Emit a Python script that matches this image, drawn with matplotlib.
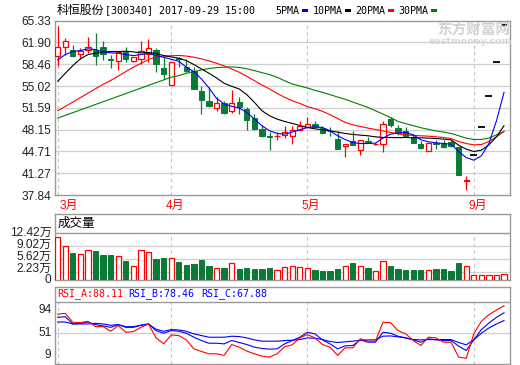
import numpy as np
import matplotlib
matplotlib.use("Agg")
import matplotlib.pyplot as plt
from matplotlib.patches import Rectangle

# ---------------- data ----------------
stock_name = "科恒股份"
stock_info = "[300340] 2017-09-29 15:00"
month_labels = ["3月", "4月", "5月", "9月"]
month_start = [0, 15, 33, 55]

opens = [59.83, 61.26, 60.78, 60.10, 60.78, 60.78, 61.15, 59.25, 59.04, 60.36,
         58.94, 59.31, 60.10, 60.78, 57.83, 55.25, 59.46, 58.09, 57.46, 54.19,
         52.71, 51.55, 52.29, 51.13, 52.45, 51.40, 49.97, 48.18, 47.07, 47.07,
         47.33, 47.17, 48.07, 48.60, 49.02, 48.39, 47.97, 46.75, 45.54, 46.28,
         44.91, 46.28, 45.86, 45.86, 49.76, 48.34, 47.97, 47.02, 45.96, 44.80,
         46.12, 46.12, 46.23, 45.44, 40.05, 44.17, 48.59, 53.45, 58.80, 64.68]
highs = [64.48, 62.63, 61.57, 61.05, 62.74, 63.37, 62.10, 59.99, 60.63, 61.15,
         59.68, 62.10, 62.37, 61.05, 59.68, 58.89, 59.57, 59.31, 57.99, 55.09,
         54.93, 53.24, 52.71, 54.40, 53.24, 51.77, 50.60, 48.92, 47.70, 47.70,
         48.76, 48.76, 49.44, 50.08, 49.55, 48.76, 48.60, 47.97, 45.86, 47.86,
         46.59, 47.02, 46.07, 49.44, 50.08, 48.92, 48.60, 47.44, 46.38, 46.12,
         46.49, 46.49, 46.49, 45.59, 40.85, 44.17, 48.59, 53.45, 58.80, 64.68]
lows = [58.25, 59.99, 59.57, 59.31, 60.20, 58.36, 59.15, 57.88, 57.57, 58.89,
        58.89, 58.52, 58.78, 57.30, 56.14, 55.25, 57.99, 57.20, 54.56, 50.60,
        51.77, 51.03, 50.60, 50.71, 50.60, 48.07, 48.07, 47.02, 44.91, 46.49,
        46.81, 45.96, 48.07, 48.49, 48.49, 47.44, 47.12, 45.07, 43.85, 45.75,
        44.17, 46.12, 45.75, 44.65, 48.60, 47.33, 47.18, 46.02, 45.07, 44.80,
        45.17, 45.22, 45.44, 40.95, 38.58, 44.17, 48.59, 53.45, 58.80, 64.68]
closes = [61.15, 62.10, 59.83, 60.63, 61.15, 59.83, 60.10, 59.15, 60.36, 59.31,
          59.57, 60.63, 61.05, 58.52, 56.93, 58.89, 59.25, 57.36, 54.56, 52.82,
          51.92, 52.29, 50.71, 52.29, 51.77, 49.66, 48.23, 47.12, 46.96, 47.17,
          47.81, 48.07, 48.76, 49.02, 48.60, 47.65, 47.86, 45.07, 45.86, 45.75,
          46.59, 46.17, 45.96, 49.02, 48.92, 47.55, 47.18, 46.02, 45.22, 46.12,
          45.86, 45.44, 45.59, 40.95, 40.15, 44.17, 48.59, 53.45, 58.80, 64.68]
volumes = [11.2, 8.8, 7.2, 6.7, 8.0, 7.6, 6.6, 6.6, 6.2, 5.0,
           3.6, 7.8, 7.3, 5.5, 5.8, 5.9, 4.7, 3.9, 4.2, 5.2,
           3.7, 3.1, 3.1, 4.4, 2.9, 3.1, 2.9, 2.9, 3.1, 2.5,
           3.3, 3.8, 3.3, 3.1, 2.5, 2.4, 2.4, 2.9, 3.8, 4.5,
           3.8, 3.1, 2.4, 5.0, 3.7, 2.9, 2.6, 2.6, 2.6, 2.5,
           2.9, 2.9, 2.4, 4.5, 3.8, 1.2, 1.2, 1.2, 1.2, 1.5]
ma5 = [59.15, 59.99, 60.47, 60.63, 60.89, 60.78, 60.41, 60.26, 60.20, 59.99,
       59.83, 59.99, 60.20, 59.83, 59.57, 59.25, 58.94, 57.99, 57.30, 56.14,
       54.72, 53.08, 52.19, 51.82, 51.55, 50.87, 49.81, 48.76, 47.97, 47.55,
       47.44, 47.76, 48.13, 48.49, 48.60, 48.49, 47.97, 47.18, 46.59, 46.12,
       45.96, 45.96, 46.02, 46.81, 47.44, 47.62, 47.70, 47.33, 46.54, 46.23,
       46.07, 45.96, 45.86, 44.70, 43.75, 43.33, 44.01, 45.96, 49.55, 54.03]
ma10 = [55.77, 57.04, 58.25, 59.31, 59.99, 60.20, 60.36, 60.47, 60.47, 60.52,
        60.41, 60.26, 60.31, 60.15, 59.83, 59.62, 59.41, 59.04, 58.41, 57.72,
        57.04, 56.30, 55.46, 54.98, 54.56, 53.66, 52.45, 51.13, 50.34, 49.81,
        49.44, 49.13, 48.81, 48.49, 48.28, 48.13, 47.97, 47.76, 47.55, 47.39,
        47.28, 47.18, 47.02, 46.91, 46.91, 46.88, 46.91, 46.86, 46.86, 46.81,
        46.75, 46.65, 46.54, 45.70, 45.07, 44.70, 44.91, 45.75, 47.02, 48.76]
ma20 = [51.13, 51.80, 52.50, 53.20, 53.90, 54.60, 55.30, 55.90, 56.60, 57.30,
        58.00, 58.60, 59.20, 59.60, 59.75, 59.80, 59.85, 59.75, 59.57, 59.31,
        58.99, 58.62, 58.20, 57.72, 57.20, 56.56, 55.88, 55.19, 54.56, 53.87,
        53.24, 52.71, 52.29, 51.77, 51.45, 51.03, 50.50, 49.92, 49.29, 48.92,
        48.65, 48.39, 48.18, 47.97, 47.70, 47.50, 47.33, 47.23, 47.18, 47.12,
        47.02, 46.91, 46.75, 46.28, 45.96, 45.75, 45.80, 46.28, 47.02, 47.86]
ma30 = [49.97, 50.40, 50.83, 51.26, 51.69, 52.12, 52.55, 52.98, 53.41, 53.84,
        54.27, 54.70, 55.13, 55.56, 55.99, 56.41, 56.67, 57.04, 57.30, 57.57,
        57.78, 57.94, 57.99, 58.05, 57.95, 57.75, 57.46, 57.14, 56.83, 56.41,
        55.85, 55.35, 55.03, 54.72, 54.35, 54.03, 53.66, 53.29, 52.93, 52.50,
        52.08, 51.66, 51.13, 50.60, 50.05, 49.44, 49.10, 48.78, 48.45, 48.20,
        47.95, 47.76, 47.55, 47.18, 46.81, 46.60, 46.60, 46.81, 47.33, 47.86]
rsi_a = [76.8, 77.7, 65.5, 65.0, 66.8, 59.5, 59.5, 53.2, 60.9, 51.8,
         52.7, 58.6, 63.2, 44.1, 35.9, 48.2, 47.3, 41.4, 29.1, 25.5,
         22.3, 22.3, 20.1, 35.0, 31.4, 26.0, 22.3, 19.1, 17.8, 22.3,
         31.9, 34.6, 44.1, 48.7, 44.1, 35.0, 31.4, 20.1, 30.5, 30.5,
         42.8, 39.6, 39.6, 65.5, 65.0, 54.1, 49.6, 40.5, 33.7, 45.0,
         44.1, 38.2, 38.2, 17.8, 16.0, 49.6, 66.8, 75.9, 82.2, 88.11]
rsi_b = [72.3, 73.2, 63.2, 64.1, 65.9, 62.3, 60.5, 58.6, 62.3, 58.6,
         58.6, 61.4, 63.2, 54.1, 50.5, 54.1, 53.2, 50.5, 45.0, 40.5,
         36.8, 36.8, 35.9, 40.5, 37.8, 35.0, 31.4, 29.6, 28.7, 29.1,
         35.9, 40.5, 45.0, 51.8, 49.6, 41.4, 35.9, 29.1, 33.2, 33.7,
         41.4, 38.2, 38.2, 51.8, 50.5, 46.4, 44.1, 41.4, 38.2, 42.8,
         41.4, 40.5, 40.5, 32.8, 26.9, 41.4, 55.5, 64.5, 72.3, 78.46]
rsi_c = [65.9, 65.9, 63.2, 63.2, 63.2, 64.1, 63.2, 61.4, 62.3, 59.5,
         59.5, 61.4, 63.2, 55.9, 53.2, 55.5, 55.0, 53.2, 49.6, 47.3,
         45.0, 45.0, 45.0, 46.4, 45.9, 44.1, 41.4, 39.6, 39.6, 39.6,
         40.5, 40.9, 41.8, 44.1, 43.7, 41.8, 39.1, 37.8, 38.7, 39.6,
         40.9, 41.4, 41.4, 46.4, 46.8, 45.5, 44.1, 41.8, 41.4, 41.8,
         41.8, 41.8, 41.8, 37.8, 34.6, 41.4, 50.5, 57.7, 63.2, 67.88]
price_ticks = [37.84, 41.27, 44.71, 48.15, 51.59, 55.02, 58.46, 61.90, 65.33]
vol_ticks = [0, 2.23, 5.62, 9.02, 12.42]
rsi_ticks = [9, 51, 94]
ma_names = ["5PMA", "10PMA", "20PMA", "30PMA"]

# ---------------- style ----------------
RED = "#ff0000"
GREEN = "#0a7a36"
BLUE = "#0000ff"
FRAME = "#9a9a9a"
GRID = "#cfcfcf"
VDASH = "#c4c4c4"
TXT = "#222222"
ma_colors = [BLUE, "#000000", RED, "#008000"]
LAT = ["Liberation Sans", "Noto Sans CJK SC"]
MONO = ["DejaVu Sans Mono", "Noto Sans CJK SC"]
CJK = ["Noto Sans CJK SC", "DejaVu Sans"]

W, H = 520, 365
fig = plt.figure(figsize=(W / 100, H / 100), dpi=100)
fig.patch.set_facecolor("white")


def ax_px(x0, y0, x1, y1):
    return fig.add_axes([x0 / W, (H - y1) / H, (x1 - x0) / W, (y1 - y0) / H])


def ftext(xpx, ypx, s, **kw):
    return fig.text(xpx / W, 1 - ypx / H, s, **kw)


n = len(closes)
x = np.arange(n)
o = np.array(opens); c = np.array(closes); hi = np.array(highs); lo = np.array(lows)
flat = hi == lo                      # one-price (limit) days drawn as dashes
up = (c >= o) & ~flat
dn = c < o
blo = np.minimum(o, c)
bhi = np.maximum(o, c)
bh = np.maximum(bhi - blo, 0.05)
XL = (-0.36, n - 0.21)
BW = 0.7


def style_frame(ax):
    for s in ax.spines.values():
        s.set_color(FRAME)
        s.set_linewidth(1.0)
    ax.set_xlim(*XL)
    ax.set_xticks([])
    ax.tick_params(axis="y", length=0, pad=2.5, labelsize=8.6, labelcolor=TXT)
    ax.set_facecolor("white")


# ---------------- main price panel ----------------
ax = ax_px(55, 20.7, 510, 195)
style_frame(ax)
ax.set_ylim(price_ticks[0], price_ticks[-1])
ax.set_yticks(price_ticks)
ax.set_yticklabels([f"{v:.2f}" for v in price_ticks], family=LAT)
for v in price_ticks[1:-1]:
    ax.axhline(v, color=GRID, lw=0.9, zorder=0)
for m in month_start:
    ax.axvline(m, color=VDASH, lw=0.8, ls=(0, (3, 3)), zorder=0)

ax.vlines(x[dn], lo[dn], hi[dn], color=GREEN, lw=0.9, zorder=2)
ax.bar(x[dn], bh[dn], bottom=blo[dn], width=BW, color=GREEN, edgecolor=GREEN,
       lw=0.7, zorder=3)
ax.vlines(x[up], bhi[up], hi[up], color=RED, lw=0.9, zorder=2)
ax.vlines(x[up], lo[up], blo[up], color=RED, lw=0.9, zorder=2)
ax.bar(x[up], bh[up], bottom=blo[up], width=BW, facecolor="white", edgecolor=RED,
       lw=0.9, zorder=3)
ax.hlines(c[flat], x[flat] - 0.45, x[flat] + 0.45, color="#000000", lw=1.3, zorder=3)
for ser, col in zip([ma30, ma20, ma10, ma5], ma_colors[::-1]):
    ax.plot(x, ser, color=col, lw=0.8, zorder=4)

# month labels
for lab, m in zip(month_labels, month_start):
    if m == 0:
        ax.text(m + 0.2, -0.06, lab, transform=ax.get_xaxis_transform(),
                ha="left", va="center", color=RED, fontsize=8.6, family=LAT)
    else:
        ax.text(m + 0.5, -0.06, lab, transform=ax.get_xaxis_transform(),
                ha="center", va="center", color=RED, fontsize=8.6, family=LAT)

# watermark
ftext(474, 29.5, "东方财富网", fontsize=10.5, color="#d2d2d2", ha="center",
      va="center", family=CJK, weight="bold", zorder=1)
ftext(470, 41.5, "eastmoney.com", fontsize=6.8, color="#d8d8d8", ha="center",
      va="center", family=["DejaVu Sans"], weight="bold", zorder=1)

# title + legend
ftext(57, 10.5, stock_name, fontsize=8.6, family=CJK, color="#000000",
      ha="left", va="center")
ftext(105, 10.5, stock_info, fontsize=7.2, family=MONO, color="#000000",
      ha="left", va="center")
leg_x = [275, 313, 355, 398]
sq_x = [302, 345, 388, 431]
for name, col, lx, sx in zip(ma_names, ma_colors, leg_x, sq_x):
    ftext(lx, 10.5, name, fontsize=7.2, family=MONO, color="#000000",
          ha="left", va="center")
    fig.add_artist(Rectangle((sx / W, 1 - 12 / H), 5.5 / W, 2.8 / H,
                             transform=fig.transFigure, color=col, lw=0))

# ---------------- volume panel ----------------
axv = ax_px(55, 214, 510, 280)
style_frame(axv)
vtop = vol_ticks[-1] * (280 - 214) / (280 - 232.7)
axv.set_ylim(0, vtop)
axv.set_yticks([])
vol_label_shift = [0.0, 1.6, 0.95, 0.45, 0.0]   # points, upward
for v, dy in zip(vol_ticks, vol_label_shift):
    axv.annotate("0" if v == 0 else f"{v:.2f}万", xy=(0, v),
                 xycoords=("axes fraction", "data"), xytext=(-2.5, dy),
                 textcoords="offset points", ha="right", va="center",
                 fontsize=8.6, family=LAT, color=TXT)
axv.axhline(vol_ticks[-1], color=FRAME, lw=1.0, zorder=5)
for v in vol_ticks[1:-1]:
    axv.axhline(v, color=GRID, lw=0.9, zorder=0)
for m in month_start:
    axv.vlines(m, 0, vol_ticks[-1], color=VDASH, lw=0.8, ls=(0, (3, 3)), zorder=0)
vol = np.array(volumes)
vup = c >= o
axv.bar(x[~vup], vol[~vup], width=BW, color=GREEN, edgecolor=GREEN, lw=0.7, zorder=3)
axv.bar(x[vup], vol[vup], width=BW, facecolor="white", edgecolor=RED, lw=0.9, zorder=3)
axv.text(0.006, (vol_ticks[-1] + vtop) / 2, "成交量", transform=axv.get_yaxis_transform(),
         ha="left", va="center", fontsize=9, family=CJK, color="#000000")

# ---------------- RSI panel ----------------
axr = ax_px(55, 287, 510, 363.5)
style_frame(axr)
rlo, rhi = rsi_ticks[0], rsi_ticks[-1]
rtop = rhi + (rhi - rlo) * (301.5 - 287) / (363.5 - 301.5)
axr.set_ylim(rlo, rtop)
axr.set_yticks([])
axr.axhline(rhi, color=FRAME, lw=1.0, zorder=5)
axr.axhline(rsi_ticks[1], color=GRID, lw=0.9, zorder=0)
for m in month_start:
    axr.vlines(m, rlo, rhi, color=VDASH, lw=0.8, ls=(0, (3, 3)), zorder=0)
axr.plot(x, rsi_c, color=BLUE, lw=0.8, zorder=3)
axr.plot(x, rsi_b, color=BLUE, lw=0.8, zorder=3)
axr.plot(x, rsi_a, color=RED, lw=0.8, zorder=4)
for v, va, dy in zip(rsi_ticks, ["bottom", "center", "top"], [2, 0, -2]):
    axr.annotate(str(v), xy=(0, v), xycoords=("axes fraction", "data"),
                 xytext=(-2.5, dy), textcoords="offset points", ha="right", va=va,
                 fontsize=8.6, family=LAT, color=TXT)
hdr = [("RSI_A", rsi_a[-1], RED, 57), ("RSI_B", rsi_b[-1], BLUE, 128),
       ("RSI_C", rsi_c[-1], BLUE, 201)]
for name, val, col, px in hdr:
    ftext(px, 294, f"{name}:{val:.2f}", fontsize=7.2, family=MONO, color=col,
          ha="left", va="center")

fig.savefig("out.png", dpi=100, facecolor="white")
